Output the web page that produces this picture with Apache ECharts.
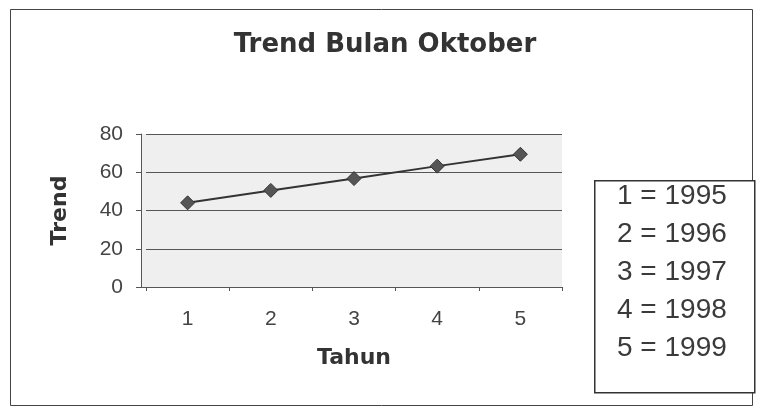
<!DOCTYPE html>
<html>
<head>
<meta charset="utf-8">
<script src="https://cdn.jsdelivr.net/npm/echarts@6/dist/echarts.min.js"></script>
<style>
  html, body { margin: 0; padding: 0; background: #fff; }
  #chart { width: 758px; height: 409px; }
</style>
</head>
<body>
<div id="chart"></div>
<script>
const categories = ['1', '2', '3', '4', '5'];
const trendValues = [44, 50.5, 56.7, 63.2, 69.4];
const years = ['1995', '1996', '1997', '1998', '1999'];
const yTicks = [0, 20, 40, 60, 80];

const myChart = echarts.init(document.getElementById('chart'));

// legend box on the right, text lines built from the arrays
const legendLines = categories.map(function (c, i) {
  return {
    type: 'text',
    left: 617,
    top: 182 + i * 38,
    style: {
      text: c + ' = ' + years[i],
      font: '28px "Liberation Sans", Arial, sans-serif',
      fill: '#3a3a3a'
    }
  };
});

const option = {
  backgroundColor: '#fff',
  animation: false,
  title: {
    text: 'Trend Bulan Oktober',
    left: 380,
    top: 27,
    textAlign: 'center',
    textStyle: {
      fontFamily: '"DejaVu Sans", sans-serif',
      fontWeight: 'bold',
      fontSize: 26,
      color: '#333'
    }
  },
  grid: {
    left: 146,
    right: 196,
    top: 134,
    bottom: 122,
    show: true,
    backgroundColor: '#efefef',
    borderWidth: 0
  },
  xAxis: {
    type: 'category',
    data: categories,
    boundaryGap: true,
    name: 'Tahun',
    nameLocation: 'middle',
    nameGap: 60,
    nameTextStyle: {
      fontFamily: '"DejaVu Sans", sans-serif',
      fontWeight: 'bold',
      fontSize: 22,
      color: '#333'
    },
    axisLine: { lineStyle: { color: '#555', width: 1 } },
    axisTick: { show: true, length: 4, lineStyle: { color: '#555' } },
    axisLabel: {
      margin: 22,
      fontFamily: '"Liberation Sans", Arial, sans-serif',
      fontSize: 21,
      color: '#444'
    }
  },
  yAxis: {
    type: 'value',
    min: yTicks[0],
    max: yTicks[yTicks.length - 1],
    interval: 20,
    offset: 5,
    name: 'Trend',
    nameLocation: 'middle',
    nameGap: 70,
    nameTextStyle: {
      fontFamily: '"DejaVu Sans", sans-serif',
      fontWeight: 'bold',
      fontSize: 22,
      color: '#333'
    },
    axisLine: { show: true, lineStyle: { color: '#555', width: 1 } },
    axisTick: { show: true, length: 5, lineStyle: { color: '#555' } },
    axisLabel: {
      margin: 18,
      fontFamily: '"Liberation Sans", Arial, sans-serif',
      fontSize: 21,
      color: '#444'
    },
    splitLine: { show: true, lineStyle: { color: '#555', width: 1 } }
  },
  series: [
    {
      name: 'Trend',
      type: 'line',
      data: trendValues,
      symbol: 'diamond',
      symbolSize: 14,
      itemStyle: { color: '#555', borderColor: '#333', borderWidth: 1 },
      lineStyle: { color: '#333', width: 2 }
    }
  ],
  graphic: [
    {
      type: 'rect',
      left: 8,
      top: 7,
      shape: { width: 742, height: 396 },
      style: { fill: 'none', stroke: '#444', lineWidth: 1 },
      silent: true
    },
    // fill the small strip between the offset y axis and the plot background
    {
      type: 'rect',
      left: 142,
      top: 134,
      z: -1,
      shape: { width: 4, height: 153 },
      style: { fill: '#efefef' },
      silent: true
    },
    {
      type: 'line',
      shape: { x1: 141, y1: 287.5, x2: 147, y2: 287.5 },
      style: { stroke: '#555', lineWidth: 1 },
      silent: true
    },
    {
      type: 'rect',
      left: 594,
      top: 180,
      shape: { width: 160, height: 212 },
      style: { fill: '#fff', stroke: '#333', lineWidth: 1.5 },
      silent: true
    }
  ].concat(legendLines)
};

myChart.setOption(option);
</script>
</body>
</html>
